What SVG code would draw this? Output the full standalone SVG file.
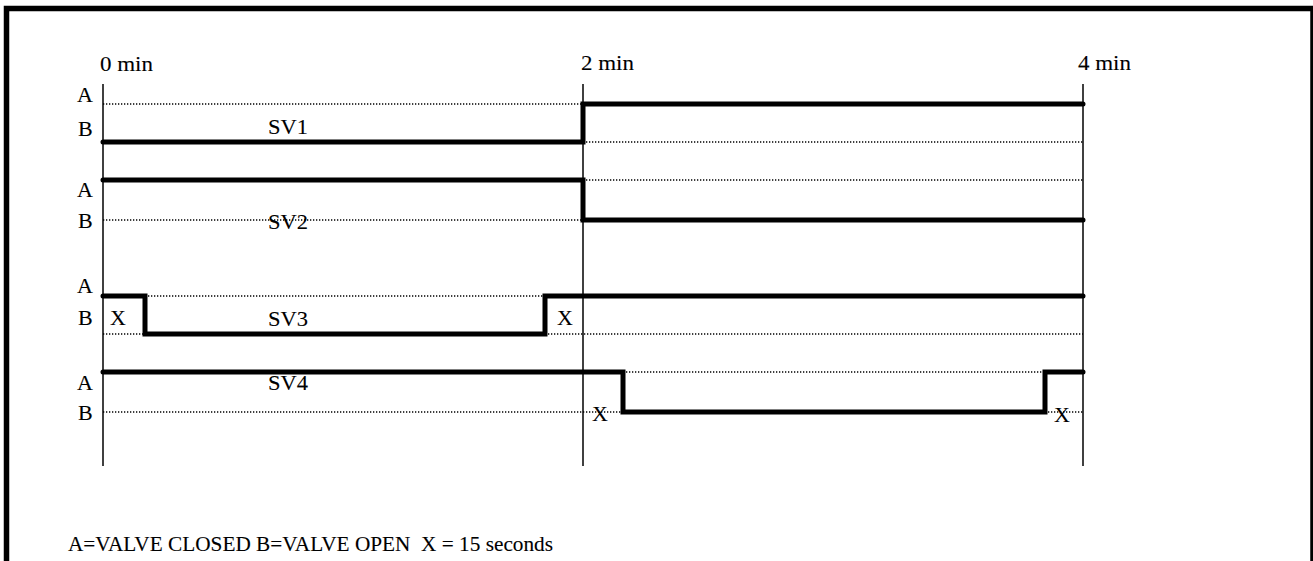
<svg xmlns="http://www.w3.org/2000/svg" width="1313" height="561" viewBox="0 0 1313 561">
<style>
.frame{fill:none;stroke:#000;stroke-width:5.5}
.axis{stroke:#000;stroke-width:1.5;fill:none}
.dot{stroke:#000;stroke-width:1.3;stroke-dasharray:1.3 1.7;fill:none}
.sig{stroke:#000;stroke-width:5;fill:none;stroke-linecap:round;stroke-linejoin:miter}
.t{font-family:'Liberation Serif','Times New Roman',serif;font-size:22px;fill:#000;stroke:#000;stroke-width:0.1}
</style>
<rect class="frame" x="6.5" y="8.5" width="1306.5" height="600"/>
<g id="axes">
<line class="axis" x1="103" y1="84" x2="103" y2="466"/>
<line class="axis" x1="583" y1="84" x2="583" y2="466"/>
<line class="axis" x1="1083" y1="84" x2="1083" y2="466"/>
<text class="t" x="100" y="71" textLength="53" lengthAdjust="spacingAndGlyphs">0 min</text>
<text class="t" x="581" y="70" textLength="53" lengthAdjust="spacingAndGlyphs">2 min</text>
<text class="t" x="1078" y="70" textLength="53" lengthAdjust="spacingAndGlyphs">4 min</text>
</g>
<g id="connectors">
<path class="dot" d="M103,104H583M583,142H1083"/>
<path class="dot" d="M103,220H583M583,180H1083"/>
<path class="dot" d="M145,296H545M103,334H145M545,334H1083"/>
<path class="dot" d="M623,372H1045M103,412H623M1045,412H1083"/>
</g>
<g id="sv1">
<path class="sig" d="M103,142H583V104H1083"/>
<text class="t" x="77" y="102">A</text>
<text class="t" x="78" y="136">B</text>
<text class="t" x="268" y="134" textLength="40" lengthAdjust="spacingAndGlyphs">SV1</text>
</g>
<g id="sv2">
<path class="sig" d="M103,180H583V220H1083"/>
<text class="t" x="77" y="197">A</text>
<text class="t" x="78" y="228">B</text>
<text class="t" x="268" y="229" textLength="40" lengthAdjust="spacingAndGlyphs">SV2</text>
</g>
<g id="sv3">
<path class="sig" d="M103,296H145V334H545V296H1083"/>
<text class="t" x="77" y="293">A</text>
<text class="t" x="78" y="325">B</text>
<text class="t" x="110" y="325">X</text>
<text class="t" x="557" y="325">X</text>
<text class="t" x="268" y="326" textLength="40" lengthAdjust="spacingAndGlyphs">SV3</text>
</g>
<g id="sv4">
<path class="sig" d="M103,372H623V412H1045V372H1083"/>
<text class="t" x="77" y="390">A</text>
<text class="t" x="78" y="420">B</text>
<text class="t" x="592" y="421">X</text>
<text class="t" x="1054" y="422">X</text>
<text class="t" x="268" y="390" textLength="40" lengthAdjust="spacingAndGlyphs">SV4</text>
</g>
<g id="legend">
<text class="t" x="68" y="551" textLength="485" lengthAdjust="spacingAndGlyphs">A=VALVE CLOSED B=VALVE OPEN&#160; X = 15 seconds</text>
</g>
</svg>
